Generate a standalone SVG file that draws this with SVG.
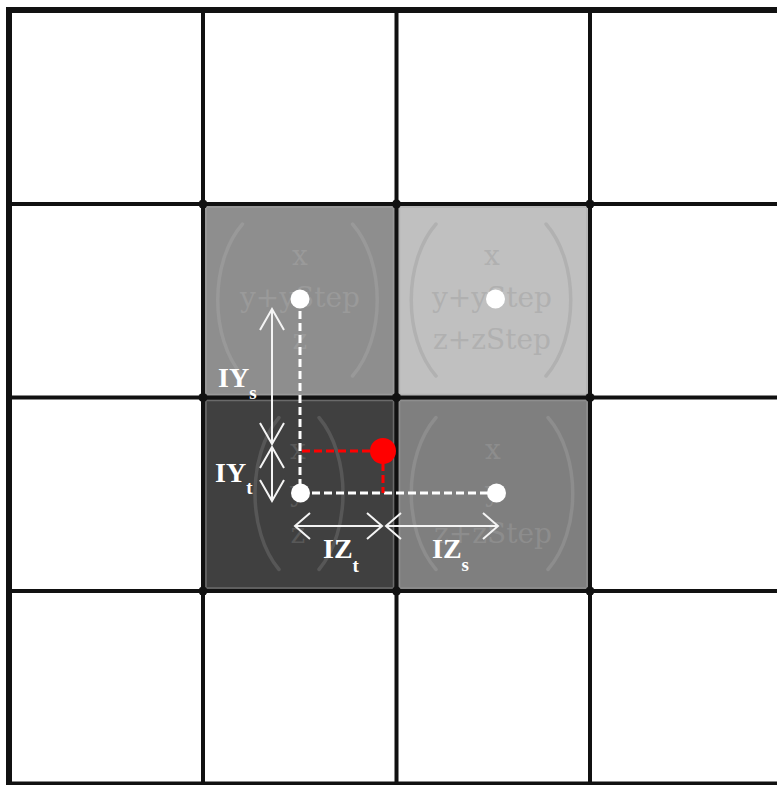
<svg xmlns="http://www.w3.org/2000/svg" width="777" height="785" viewBox="0 0 777 785">
<style>
.ghost{font-family:"DejaVu Serif","Liberation Serif",serif;font-size:28px;text-anchor:middle}
.paren{fill:none;stroke-width:3.5;stroke-linecap:round}
.grid{fill:none;stroke:#111111;stroke-width:4}
.dash-w{fill:none;stroke:#ffffff;stroke-width:3;stroke-dasharray:8 4}
.dash-r{fill:none;stroke:#ff0000;stroke-width:3;stroke-dasharray:8 4}
.arr-v{fill:none;stroke:#f4f4f4;stroke-width:2;marker-start:url(#hv);marker-end:url(#hv)}
.arr-h{fill:none;stroke:#f4f4f4;stroke-width:2;marker-start:url(#hh);marker-end:url(#hh)}
.lbl{font-family:"Liberation Serif","DejaVu Serif",serif;font-weight:bold;font-size:28px;fill:#ffffff}
.sub{font-size:19px}
</style>
<defs>
<marker id="hv" viewBox="-25 -15 27 30" refX="0" refY="0" markerWidth="27" markerHeight="30" markerUnits="userSpaceOnUse" orient="auto-start-reverse" overflow="visible">
<path d="M -21 -12 L 0 0 L -21 12" fill="none" stroke="#f4f4f4" stroke-width="2"/>
</marker>
<marker id="hh" viewBox="-25 -15 27 30" refX="0" refY="0" markerWidth="27" markerHeight="30" markerUnits="userSpaceOnUse" orient="auto-start-reverse" overflow="visible">
<path d="M -15 -13 L 0 0 L -15 13" fill="none" stroke="#f4f4f4" stroke-width="2"/>
</marker>
</defs>
<rect x="0" y="0" width="777" height="785" fill="#ffffff"/>

<g id="cell-y-yStep-z">
<rect x="203" y="204" width="193.5" height="193.5" fill="#8e8e8e"/>
<rect x="206" y="207" width="187.5" height="187.5" fill="none" stroke="#9a9a9a" stroke-width="1.5"/>
<path class="paren" stroke="#999999" d="M 242.5 224 C 209.5 262 209.5 338 242.5 376 M 352.5 224 C 385.5 262 385.5 338 352.5 376"/>
<text class="ghost" fill="#9a9a9a" x="300" y="265">x</text>
<text class="ghost" fill="#9a9a9a" x="300" y="307">y+yStep</text>
<text class="ghost" fill="#9a9a9a" x="300" y="349">z</text>
</g>

<g id="cell-y-yStep-z-zStep">
<rect x="396.5" y="204" width="193.5" height="193.5" fill="#c0c0c0"/>
<rect x="399.5" y="207" width="187.5" height="187.5" fill="none" stroke="#b4b4b4" stroke-width="1.5"/>
<path class="paren" stroke="#b1b1b1" d="M 436 224 C 403 262 403 338 436 376 M 546 224 C 579 262 579 338 546 376"/>
<text class="ghost" fill="#b0b0b0" x="492" y="265">x</text>
<text class="ghost" fill="#b0b0b0" x="492" y="307">y+yStep</text>
<text class="ghost" fill="#b0b0b0" x="492" y="349">z+zStep</text>
</g>

<g id="cell-y-z">
<rect x="203" y="397.5" width="193.5" height="193.5" fill="#404040"/>
<rect x="206" y="400.5" width="187.5" height="187.5" fill="none" stroke="#6a6a6a" stroke-width="1.5"/>
<path class="paren" stroke="#575757" d="M 279 417.5 C 247 455.5 247 531.5 279 569.5 M 319 417.5 C 351 455.5 351 531.5 319 569.5"/>
<text class="ghost" fill="#585858" x="298" y="458.5">x</text>
<text class="ghost" fill="#585858" x="298" y="500.5">y</text>
<text class="ghost" fill="#585858" x="298" y="542.5">z</text>
</g>

<g id="cell-y-z-zStep">
<rect x="396.5" y="397.5" width="193.5" height="193.5" fill="#7f7f7f"/>
<rect x="399.5" y="400.5" width="187.5" height="187.5" fill="none" stroke="#8e8e8e" stroke-width="1.5"/>
<path class="paren" stroke="#8d8d8d" d="M 436 417.5 C 403 455.5 403 531.5 436 569.5 M 548 417.5 C 581 455.5 581 531.5 548 569.5"/>
<text class="ghost" fill="#8d8d8d" x="493" y="458.5">x</text>
<text class="ghost" fill="#8d8d8d" x="493" y="500.5">y</text>
<text class="ghost" fill="#8d8d8d" x="493" y="542.5">z+zStep</text>
</g>

<g id="grid">
<rect x="9" y="10" width="774.5" height="774.5" fill="none" stroke="#111111" stroke-width="6"/>
<path class="grid" d="M 203 10 V 784.5 M 396.5 10 V 784.5 M 590 10 V 784.5 M 9 204 H 783.5 M 9 397.5 H 783.5 M 9 591 H 783.5"/>
<g fill="#111111">
<circle cx="203" cy="204" r="4.5"/><circle cx="396.5" cy="204" r="4.5"/><circle cx="590" cy="204" r="4.5"/>
<circle cx="203" cy="397.5" r="4.5"/><circle cx="396.5" cy="397.5" r="4.5"/><circle cx="590" cy="397.5" r="4.5"/>
<circle cx="203" cy="591" r="4.5"/><circle cx="396.5" cy="591" r="4.5"/><circle cx="590" cy="591" r="4.5"/>
</g>
</g>

<g id="connectors">
<path class="dash-w" d="M 300 299 V 493"/>
<path class="dash-w" d="M 300 493 H 496"/>
<path class="dash-r" d="M 302 451 H 383"/>
<path class="dash-r" d="M 383 451 V 493"/>
<path class="arr-v" d="M 272 309 V 444"/>
<path class="arr-v" d="M 272 447 V 501"/>
<path class="arr-h" d="M 295 526 H 382"/>
<path class="arr-h" d="M 386 526 H 498"/>
</g>

<g id="point-y-yStep-z"><circle cx="300" cy="299" r="9.5" fill="#ffffff"/></g>
<g id="point-y-yStep-z-zStep"><circle cx="495.5" cy="299" r="9.5" fill="#ffffff"/></g>
<g id="point-y-z"><circle cx="300.5" cy="493" r="9.5" fill="#ffffff"/></g>
<g id="point-y-z-zStep"><circle cx="496.5" cy="493" r="9.5" fill="#ffffff"/></g>
<g id="point-sample"><circle cx="383" cy="451" r="13" fill="#ff0000"/></g>

<g id="labels">
<text class="lbl" x="218" y="387">IY<tspan class="sub" dy="12">s</tspan></text>
<text class="lbl" x="215" y="482">IY<tspan class="sub" dy="12">t</tspan></text>
<text class="lbl" x="323" y="558">IZ<tspan class="sub" dy="14">t</tspan></text>
<text class="lbl" x="432" y="558">IZ<tspan class="sub" dy="13">s</tspan></text>
</g>
</svg>
